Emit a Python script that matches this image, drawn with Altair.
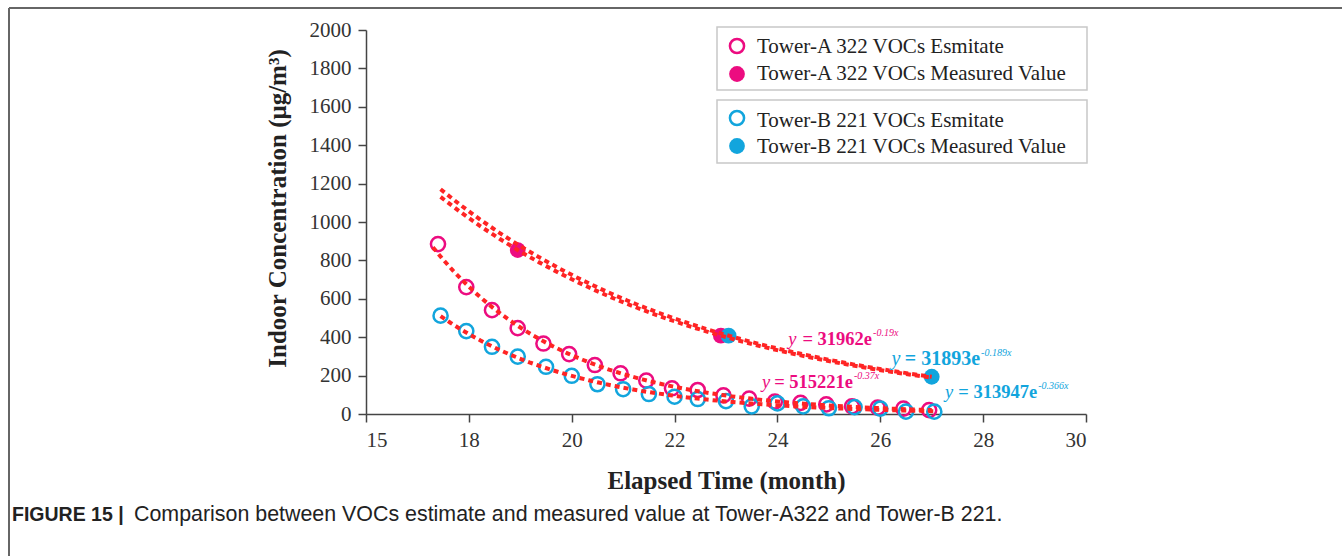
import altair as alt
import pandas as pd

# ---------------- data ----------------
est_a_x = [17.4, 17.95, 18.45, 18.95, 19.45, 19.95, 20.45, 20.95, 21.45, 21.95,
           22.45, 22.95, 23.45, 23.95, 24.45, 24.95, 25.45, 25.95, 26.45, 26.95]
est_a_y = [885, 661, 541, 447, 367, 312, 255, 212, 174, 134,
           125, 97, 80, 65, 58, 50, 40, 33, 28, 20]
est_b_x = [17.45, 17.95, 18.45, 18.95, 19.5, 20.0, 20.5, 21.0, 21.5, 22.0,
           22.45, 23.0, 23.5, 24.0, 24.5, 25.0, 25.5, 26.0, 26.5, 27.05]
est_b_y = [512, 432, 350, 299, 246, 199, 155, 129, 104, 90,
           78, 67, 40, 55, 40, 30, 36, 28, 12, 12]
meas_a_x = [18.95, 22.9]
meas_a_y = [854, 408]
meas_b_x = [23.05, 27.0]
meas_b_y = [408, 194]

x_ticks = [16, 18, 20, 22, 24, 26, 28, 30]
x_tick_labels = ["15", "18", "20", "22", "24", "26", "28", "30"]
y_ticks = [0, 200, 400, 600, 800, 1000, 1200, 1400, 1600, 1800, 2000]

legend_labels = ["Tower-A 322 VOCs Esmitate", "Tower-A 322 VOCs Measured Value",
                 "Tower-B 221 VOCs Esmitate", "Tower-B 221 VOCs Measured Value"]

eq_text = ["= 31962e", "= 515221e", "= 31893e", "= 313947e"]
eq_sup = ["-0.19x", "-0.37x", "-0.189x", "-0.366x"]
eq_end_x = [25.84, 25.47, 27.94, 29.05]
eq_y_x = [24.21, 23.70, 26.22, 27.26]
eq_y = [359, 135, 255, 83]
eq_size = [18.5, 18.5, 20, 18.5]
eq_color = ["pink", "pink", "blue", "blue"]

PINK = "#ec0c80"
BLUE = "#12a5dd"
RED = "#ff2424"
SERIF = "Liberation Serif"
SANS = "Liberation Sans"

est = pd.DataFrame({
    "series": ["A"] * len(est_a_x) + ["B"] * len(est_b_x),
    "x": est_a_x + est_b_x,
    "y": est_a_y + est_b_y,
})
meas = pd.DataFrame({
    "series": ["A"] * len(meas_a_x) + ["B"] * len(meas_b_x),
    "x": meas_a_x + meas_b_x,
    "y": meas_a_y + meas_b_y,
})
eqs = pd.DataFrame({"text": eq_text, "sup": eq_sup, "xe": eq_end_x,
                    "xy": eq_y_x, "y": eq_y, "c": eq_color, "fs": eq_size})

label_expr = " : ".join(
    f"datum.value == {v} ? '{l}'" for v, l in zip(x_ticks, x_tick_labels)
) + " : datum.label"

xs = alt.Scale(domain=[16, 30], nice=False)
ys = alt.Scale(domain=[0, 2000], nice=False)
X = alt.X("x:Q", scale=xs, title="Elapsed Time (month)",
          axis=alt.Axis(values=x_ticks, labelExpr=label_expr, titlePadding=18,
                        labelPadding=7))
Y = alt.Y("y:Q", scale=ys, title="Indoor Concentration (μg/m³)",
          axis=alt.Axis(values=y_ticks, format="d", titlePadding=19,
                        labelPadding=7, titleY=178))
color_scale = alt.Scale(domain=["A", "B"], range=[PINK, BLUE])
eq_color_scale = alt.Scale(domain=["pink", "blue"], range=["#e4197f", "#1aa3d9"])

est_pts = alt.Chart(est).mark_point(shape="circle", filled=False, size=200,
                                     strokeWidth=2.5, opacity=1).encode(
    x=X, y=Y, color=alt.Color("series:N", scale=color_scale, legend=None))

meas_pts = alt.Chart(meas).mark_circle(size=250, opacity=1).encode(
    x=X, y=Y, color=alt.Color("series:N", scale=color_scale, legend=None))


def trend(df, series, extent):
    return alt.Chart(df).transform_filter(
        alt.datum.series == series
    ).transform_regression("x", "y", method="exp", extent=extent).mark_line(
        color=RED, strokeWidth=4, strokeDash=[5, 4]
    ).encode(x=X, y=Y)


lines = [
    trend(est, "A", [17.3, 27.0]),
    trend(est, "B", [17.45, 27.05]),
    trend(meas, "A", [17.45, 27.0]),
    trend(meas, "B", [17.45, 27.0]),
]

eq_main = alt.Chart(eqs).mark_text(font=SERIF, fontWeight="bold",
                                   align="right", baseline="alphabetic").encode(
    x=alt.X("xe:Q", scale=xs), y=Y, text="text:N",
    size=alt.Size("fs:Q", scale=None, legend=None),
    color=alt.Color("c:N", scale=eq_color_scale, legend=None))
eq_yv = alt.Chart(eqs).mark_text(font=SERIF, fontStyle="italic",
                                 align="left", baseline="alphabetic").encode(
    x=alt.X("xy:Q", scale=xs), y=Y, text=alt.value("y"),
    size=alt.Size("fs:Q", scale=None, legend=None),
    color=alt.Color("c:N", scale=eq_color_scale, legend=None))
eq_supt = alt.Chart(eqs).mark_text(font=SERIF, fontSize=10, fontStyle="italic",
                                   align="left", baseline="alphabetic",
                                   dx=1, dy=-9).encode(
    x=alt.X("xe:Q", scale=xs), y=Y, text="sup:N",
    color=alt.Color("c:N", scale=eq_color_scale, legend=None))

# ---------------- legend (two boxes) ----------------
one = pd.DataFrame({"k": [0]})
legend_layers = []
for (y1, y2) in [(-3, 60), (70, 133)]:
    legend_layers.append(alt.Chart(one).mark_rect(
        fill="white", stroke="#c8c8c8", strokeWidth=1.5).encode(
        x=alt.value(351), x2=alt.value(721), y=alt.value(y1), y2=alt.value(y2)))
marker_y = [16, 44, 88, 116]
text_y = [23, 50, 97, 123]
marker_color = [PINK, PINK, BLUE, BLUE]
marker_filled = [False, True, False, True]
for lab, my, ty, col, fill in zip(legend_labels, marker_y, text_y,
                                   marker_color, marker_filled):
    if fill:
        m = alt.Chart(one).mark_circle(size=250, color=col, opacity=1)
    else:
        m = alt.Chart(one).mark_point(shape="circle", filled=False, size=200,
                                      strokeWidth=2.5, color=col, opacity=1)
    legend_layers.append(m.encode(x=alt.value(371), y=alt.value(my)))
    legend_layers.append(alt.Chart(one).mark_text(
        font=SERIF, fontSize=21, align="left", baseline="alphabetic",
        color="#222").encode(x=alt.value(391), y=alt.value(ty),
                             text=alt.value(lab)))

# ---------------- frame and caption ----------------
frame = [
    alt.Chart(one).mark_rule(color="#666", strokeWidth=2).encode(
        x=alt.value(-357), x2=alt.value(980), y=alt.value(-22)),
    alt.Chart(one).mark_rule(color="#666", strokeWidth=2).encode(
        x=alt.value(-357), y=alt.value(-22), y2=alt.value(530)),
]
caption = [
    alt.Chart(one).mark_text(font=SANS, fontSize=19.5, fontWeight="bold",
                             align="left", baseline="alphabetic",
                             color="#222").encode(
        x=alt.value(-354), y=alt.value(491), text=alt.value("FIGURE 15 |")),
    alt.Chart(one).mark_text(font=SANS, fontSize=21.4, align="left",
                             baseline="alphabetic", color="#222").encode(
        x=alt.value(-232), y=alt.value(491),
        text=alt.value("Comparison between VOCs estimate and measured value at "
                       "Tower-A322 and Tower-B 221.")),
]

chart = alt.layer(
    est_pts, meas_pts, *lines, eq_main, eq_yv, eq_supt,
    *legend_layers, *frame, *caption
).properties(
    width=720, height=384,
    autosize=alt.AutoSizeParams(type="none"),
    padding={"left": 366, "top": 30, "right": 256, "bottom": 142},
    background="white",
).configure_view(strokeWidth=0).configure_axis(
    grid=False, labelFont=SERIF, labelFontSize=21, labelColor="#333",
    titleFont=SERIF, titleFontSize=25, titleFontWeight="bold", titleColor="#222",
    domainColor="#444", tickColor="#444", domainWidth=1.5, tickWidth=1.5,
    tickSize=8,
)

chart.save("out.html", embed_options={"renderer": "svg", "actions": False})
